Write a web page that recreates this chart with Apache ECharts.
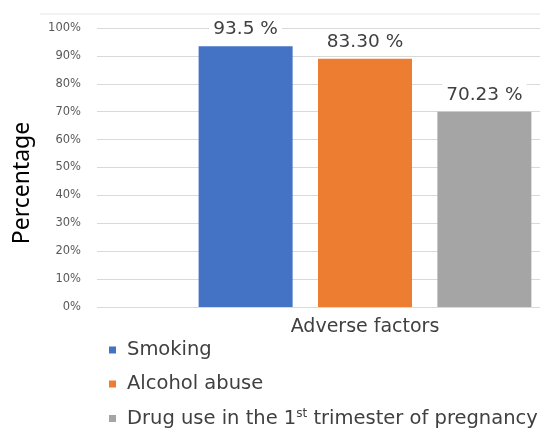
<!DOCTYPE html>
<html>
<head>
<meta charset="utf-8">
<title>Adverse factors</title>
<script src="https://cdn.jsdelivr.net/npm/echarts@6/dist/echarts.min.js"></script>
<style>
  html, body { margin: 0; padding: 0; background: #fff; }
  #chart { width: 544px; height: 430px; }
</style>
</head>
<body>
<div id="chart"></div>
<script>
// Data
var seriesNames = ['Smoking', 'Alcohol abuse', 'Drug use in the 1st trimester of pregnancy'];
var barValues = [93.5, 89, 70];               // drawn bar heights
var barLabels = ['93.5 %', '83.30 %', '70.23 %']; // printed labels
var barColors = ['#4472C4', '#ED7D31', '#A5A5A5'];
var yTicks = [0, 100, 10];                   // min, max, interval

(function() {
    'use strict';

    var chart = echarts.init(document.getElementById('chart'));
    var font = '"DejaVu Sans", "Noto Sans", sans-serif';

    var series = seriesNames.map(function(name, i) {
        return {
            name: name,
            type: 'bar',
            xAxisIndex: 1,
            yAxisIndex: 1,
            barWidth: 94,
            barGap: '27%',
            itemStyle: { color: barColors[i] },
            label: {
                show: true,
                position: 'top',
                distance: 5,
                formatter: function() { return barLabels[i]; },
                fontFamily: font,
                fontSize: 18.5,
                color: '#404040',
                backgroundColor: '#fff',
                padding: [2, 4]
            },
            data: [barValues[i]]
        };
    });

    var option = {
        animation: false,
        textStyle: { fontFamily: font },
        graphic: [{
            type: 'line',
            shape: { x1: 40, y1: 14, x2: 540, y2: 14 },
            style: { stroke: '#e6e6e6', lineWidth: 1 },
            z: -1
        }, {
            // y axis title sits a bit below the plot centre in the original
            type: 'text',
            x: 22,
            y: 183,
            rotation: Math.PI / 2,
            style: {
                text: 'Percentage',
                fontFamily: '"Noto Sans", sans-serif',
                fontSize: 23,
                fill: '#000',
                align: 'center',
                verticalAlign: 'middle'
            }
        }],
        legend: {
            orient: 'vertical',
            left: 104,
            top: 335,
            height: 95,
            itemWidth: 7,
            itemHeight: 7,
            itemGap: 14,
            icon: 'rect',
            textStyle: {
                fontSize: 19.5,
                color: '#404040',
                padding: [0, 0, 0, 6],
                rich: {
                    a: { fontSize: 19.5, lineHeight: 21, color: '#404040', fontFamily: font },
                    sup: { fontSize: 12, lineHeight: 21, color: '#404040', fontFamily: font, verticalAlign: 'top', padding: [0, 0, 9, 0] }
                }
            },
            formatter: function(name) {
                if (name.indexOf('1st') >= 0) {
                    var parts = name.split('1st');
                    return '{a|' + parts[0] + '1}{sup|st}{a|' + parts[1] + '}';
                }
                return '{a|' + name + '}';
            },
            data: seriesNames
        },
        grid: [
            { left: 97, right: 4, top: 28, bottom: 123 },
            { left: 190, right: 4, top: 28, bottom: 123 }
        ],
        xAxis: [
            { gridIndex: 0, type: 'category', data: [''], show: false },
            {
                gridIndex: 1,
                type: 'category',
                data: ['Adverse factors'],
                axisLine: { show: false },
                axisTick: { show: false },
                axisLabel: { show: false },
                name: 'Adverse factors',
                nameLocation: 'middle',
                nameGap: 11,
                nameTextStyle: { fontSize: 19, color: '#404040' }
            }
        ],
        yAxis: [
            {
                gridIndex: 0,
                type: 'value',
                min: yTicks[0],
                max: yTicks[1],
                interval: yTicks[2],
                axisLine: { show: false },
                axisTick: { show: false },
                axisLabel: {
                    formatter: '{value}%',
                    fontSize: 11.5,
                    color: '#595959',
                    margin: 16
                },
                splitLine: { lineStyle: { color: '#d9d9d9' } }
            },
            {
                gridIndex: 1,
                type: 'value',
                min: yTicks[0],
                max: yTicks[1],
                show: false,
                splitLine: { show: false }
            }
        ],
        series: series
    };

    chart.setOption(option);

    window.addEventListener('resize', function() {
        chart.resize();
    });
})();
</script>
</body>
</html>
